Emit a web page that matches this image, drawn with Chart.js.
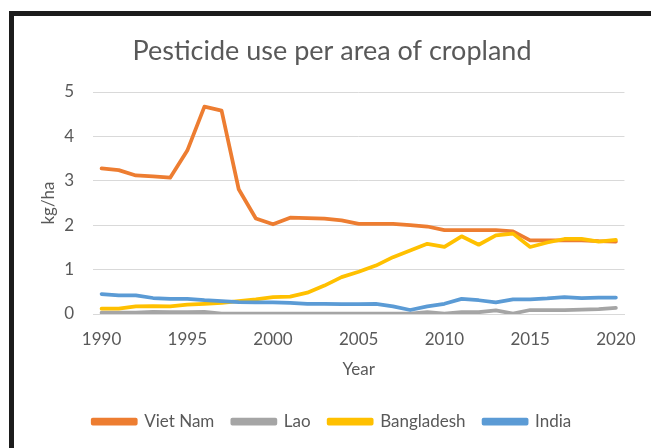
<!DOCTYPE html>
<html>
<head>
<meta charset="utf-8">
<script src="https://cdn.jsdelivr.net/npm/chart.js@4"></script>
<style>
  html, body { margin: 0; padding: 0; background: #fff; }
  #wrap { width: 651px; height: 448px; }
</style>
</head>
<body>
<div id="wrap"><canvas id="myChart" width="651" height="448"></canvas></div>
<script>
// Du lieu doc tu hinh
const years = ['1990','1991','1992','1993','1994','1995','1996','1997','1998','1999',
               '2000','2001','2002','2003','2004','2005','2006','2007','2008','2009',
               '2010','2011','2012','2013','2014','2015','2016','2017','2018','2019','2020'];
const xTickLabels = ['1990','1995','2000','2005','2010','2015','2020'];
const yTicks = [0, 1, 2, 3, 4, 5];

const vietNam = [3.28, 3.24, 3.12, 3.10, 3.07, 3.68, 4.67, 4.58, 2.81, 2.15,
                 2.02, 2.17, 2.16, 2.15, 2.11, 2.03, 2.03, 2.03, 2.00, 1.97,
                 1.89, 1.89, 1.89, 1.89, 1.86, 1.66, 1.66, 1.66, 1.66, 1.64, 1.63];
const lao = [0.03, 0.03, 0.03, 0.05, 0.04, 0.04, 0.05, 0.01, 0.01, 0.01,
             0.01, 0.01, 0.01, 0.01, 0.01, 0.01, 0.01, 0.01, 0.01, 0.04,
             0.01, 0.04, 0.04, 0.08, 0.01, 0.09, 0.09, 0.09, 0.10, 0.11, 0.14];
const bangladesh = [0.12, 0.12, 0.17, 0.18, 0.17, 0.21, 0.23, 0.25, 0.29, 0.33,
                    0.38, 0.39, 0.48, 0.64, 0.83, 0.95, 1.09, 1.28, 1.43, 1.58,
                    1.51, 1.75, 1.56, 1.77, 1.81, 1.51, 1.61, 1.69, 1.69, 1.63, 1.67];
const india = [0.45, 0.42, 0.42, 0.36, 0.34, 0.34, 0.31, 0.29, 0.27, 0.26,
               0.26, 0.25, 0.23, 0.23, 0.22, 0.22, 0.23, 0.17, 0.09, 0.17,
               0.23, 0.34, 0.31, 0.26, 0.33, 0.33, 0.35, 0.38, 0.36, 0.37, 0.37];

const seriesNames = ['Viet Nam', 'Lao', 'Bangladesh', 'India'];
const seriesColors = ['#ED7D31', '#A5A5A5', '#FFC000', '#5B9BD5'];
const seriesData = [vietNam, lao, bangladesh, india];

const textColor = '#595959';
const fontFamily = 'Lato, "Open Sans", sans-serif';

// khung vien den o goc trai tren
const framePlugin = {
    id: 'frame',
    beforeDraw(chart) {
        const c = chart.ctx;
        c.save();
        c.fillStyle = '#fff';
        c.fillRect(0, 0, chart.width, chart.height);
        c.fillStyle = '#1c1c1c';
        c.fillRect(9, 11, chart.width - 9, 5);
        c.fillRect(9, 11, 5, chart.height - 11);
        c.restore();
    }
};

const datasets = seriesNames.map((name, i) => ({
    label: name,
    data: seriesData[i],
    borderColor: seriesColors[i],
    backgroundColor: seriesColors[i],
    borderWidth: 3.75,
    pointRadius: 0,
    tension: 0,
    borderJoinStyle: 'round',
    borderCapStyle: 'round',
    order: seriesNames.length - i
}));

var ctx = document.getElementById('myChart').getContext('2d');
var chart = new Chart(ctx, {
    type: 'line',
    data: { labels: years, datasets: datasets },
    plugins: [framePlugin],
    options: {
        responsive: false,
        animation: false,
        layout: { padding: { left: 38, right: 25, top: 0, bottom: 8 } },
        plugins: {
            title: {
                display: true,
                text: 'Pesticide use per area of cropland',
                color: textColor,
                font: { family: fontFamily, size: 27, weight: 'normal' },
                padding: { top: 35, bottom: 24.6 }
            },
            legend: {
                position: 'bottom',
                labels: {
                    color: textColor,
                    font: { family: fontFamily, size: 17 },
                    boxWidth: 43,
                    boxHeight: 4,
                    padding: 18,
                    sort: (a, b) => a.datasetIndex - b.datasetIndex
                }
            },
            tooltip: { enabled: false }
        },
        scales: {
            x: {
                offset: true,
                afterFit: function (scale) {
                    scale.height = 81;
                },
                grid: { display: false, drawTicks: false },
                border: { display: true, color: '#d9d9d9' },
                ticks: {
                    color: textColor,
                    font: { family: fontFamily, size: 17 },
                    padding: 15,
                    autoSkip: false,
                    maxRotation: 0,
                    callback: function (value, index) {
                        const lab = years[index];
                        return xTickLabels.includes(lab) ? lab : '';
                    }
                },
                title: {
                    display: true,
                    text: 'Year',
                    color: textColor,
                    font: { family: fontFamily, size: 17, lineHeight: 1 },
                    padding: { top: 0, bottom: 16.5 }
                }
            },
            y: {
                min: 0,
                max: 5,
                afterBuildTicks: function (scale) {
                    scale.ticks = yTicks.map(v => ({ value: v }));
                },
                afterFit: function (scale) {
                    scale.width = 55;
                },
                grid: { color: '#d9d9d9', lineWidth: 1, drawTicks: false },
                border: { display: false },
                ticks: {
                    color: textColor,
                    font: { family: fontFamily, size: 17 },
                    padding: 19
                },
                title: {
                    display: true,
                    text: 'kg/ha',
                    color: textColor,
                    font: { family: fontFamily, size: 17 },
                    padding: { top: 0, bottom: 0 }
                }
            }
        }
    }
});
</script>
</body>
</html>
